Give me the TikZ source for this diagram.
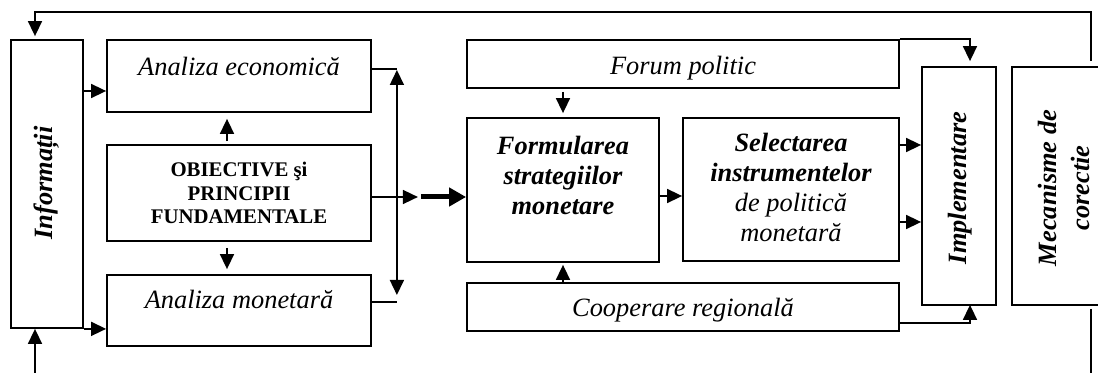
\documentclass[tikz,border=0pt]{standalone}
\usepackage{fontspec}
\setmainfont{Liberation Serif}
\usetikzlibrary{calc,arrows.meta}

\begin{document}
\begin{tikzpicture}[x=0.5pt,y=-0.5pt,
		box/.style={draw,line width=0.9pt,inner sep=0pt},
		txt/.style={inner sep=0pt,align=center,font=\fontsize{13.2}{15}\selectfont\itshape},
		bitxt/.style={txt,font=\fontsize{13.2}{15}\selectfont\bfseries\itshape},
		arr/.style={line width=0.8pt,-{Triangle[length=7.5pt,width=7pt]}},
		dblarr/.style={line width=0.8pt,{Triangle[length=7.5pt,width=7pt]}-{Triangle[length=7.5pt,width=7pt]}},
		thickarr/.style={line width=2.5pt,-{Triangle[length=8.5pt,width=9pt]}}]
		\useasboundingbox (0,0) rectangle (1098,373);
		% boxes
		\node[box,minimum width=36pt,minimum height=144pt] (info) at (47,184) {};
		\node[box,minimum width=132pt,minimum height=36pt] (econ) at (239,76) {};
		\node[box,minimum width=132pt,minimum height=48pt] (obiect) at (239,193) {};
		\node[box,minimum width=132pt,minimum height=35.5pt] (monet) at (239,310.5) {};
		\node[box,minimum width=216pt,minimum height=24pt] (forum) at (683,64) {};
		\node[box,minimum width=96pt,minimum height=72pt] (formul) at (563,190) {};
		\node[box,minimum width=108pt,minimum height=71.5pt] (select) at (791,189.5) {};
		\node[box,minimum width=216pt,minimum height=24pt] (coop) at (683,307) {};
		\node[box,minimum width=37pt,minimum height=119pt] (impl) at (959,186) {};
		\node[box,minimum width=52pt,minimum height=119pt] (mecan) at (1064,186) {};
		% texts
		\node[bitxt,rotate=90] (tinfo) at (47,183) {Informații};
		\node[txt,anchor=base] (tecon) at (239,76) {Analiza economică};
		\node[txt,font=\fontsize{10.4}{11.75}\selectfont\bfseries] (tobiect) at (239,193) {OBIECTIVE şi\\PRINCIPII\\FUNDAMENTALE};
		\node[txt,anchor=base] (tmonet) at (239,309) {Analiza monetară};
		\node[txt,anchor=base] (tforum) at (683,75) {Forum politic};
		\node[bitxt] (tformul) at (563,175) {Formularea\\strategiilor\\monetare};
		\node[txt] (tselect) at (791,187.5) {{\bfseries Selectarea}\\{\bfseries instrumentelor}\\de politică\\monetară};
		\node[txt,anchor=base] (tcoop) at (683,317) {Cooperare regională};
		\node[bitxt,rotate=90] (timpl) at (960,188) {Implementare};
		\node[bitxt,rotate=90,font=\fontsize{13.2}{16.5}\selectfont\bfseries\itshape] (tmecan) at (1064,188) {Mecanisme de\\corectie};
		% feedback loop
		\coordinate (inbot) at (35,380);
		\draw[arr] ([xshift=13.5pt,yshift=2.5pt]mecan.north) -- ++(0,-49) -| ([xshift=-6pt,yshift=1.5pt]info.north);
		\draw[line width=0.8pt] ([xshift=13.5pt,yshift=-1.5pt]mecan.south) -- ++(0,75);
		\draw[arr] (inbot) -- (inbot |- info.south);
		% left part
		\coordinate (econin) at ($(econ.west)+(0,15)$);
		\draw[arr] (econin -| info.east) -- (econin);
		\draw[arr] (info.south east) -- (info.south east -| monet.west);
		\draw[arr] ([xshift=-6pt,yshift=1.5pt]obiect.north) -- ([xshift=-6pt,yshift=-3pt]econ.south);
		\draw[arr] ([xshift=-6pt,yshift=-3pt]obiect.south) -- ([xshift=-6pt,yshift=2.5pt]monet.north);
		\draw[line width=0.8pt] ([yshift=3.5pt]econ.east) -- ++(25,0) coordinate (bt);
		\draw[line width=0.8pt] ([yshift=4.25pt]monet.east) -- ++(25,0) coordinate (bb);
		\draw[dblarr,shorten >=3.5pt] ($(bt)+(0,1)$) -- (bb);
		\draw[arr] ([yshift=-2pt]obiect.east) -- ++(46,0) coordinate (mid);
		\draw[thickarr] ([xshift=1.5pt]mid) -- (formul.west |- mid);
		% right part
		\draw[arr] ($(forum.south -| formul.north)+(0,3)$) -- ($(formul.north)+(0,-4)$);
		\draw[arr] (coop.north -| formul.south) -- ($(formul.south)+(0,2)$);
		\draw[arr] ($(formul.east)+(0,6)$) coordinate (fs) -- (fs -| select.west);
		\draw[arr] ($(select.east)+(0,-44.5)$) coordinate (s1) -- (s1 -| impl.west);
		\draw[arr] ($(select.east)+(0,32.5)$) coordinate (s2) -- (s2 -| impl.west);
		\draw[arr] (forum.north east) -| ($(impl.north)+(11,-5)$);
		\draw[arr] ($(coop.east)+(0,16)$) -| ($(impl.south)+(11,-1)$);
	\end{tikzpicture}
\end{document}
